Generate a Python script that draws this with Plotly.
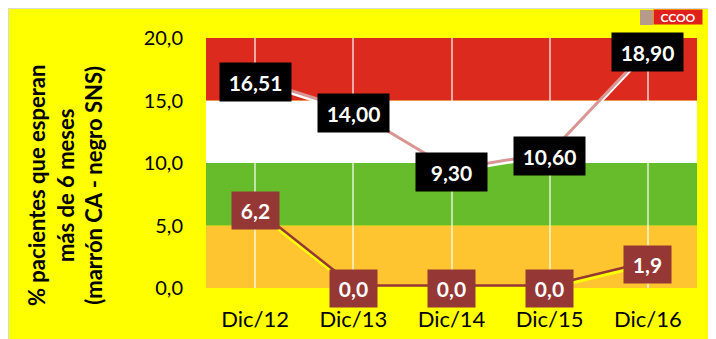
import plotly.graph_objects as go

categories = ["Dic/12", "Dic/13", "Dic/14", "Dic/15", "Dic/16"]
sns_values = [16.51, 14.00, 9.30, 10.60, 18.90]
ca_values = [6.2, 0.0, 0.0, 0.0, 1.9]
y_ticks = [0, 5, 10, 15, 20]
band_edges = [0, 5, 10, 15, 20]
band_colors = ["#FFC530", "#67BC2C", "#FFFFFF", "#DC2A1E"]

W, H = 716, 339
ML, MR, MT, MB = 198, 27, 30, 59
PW, PH = W - ML - MR, H - MT - MB


def px(x):
    return (x - ML) / PW


def py(y):
    return (H - MB - y) / PH


FONT = "Lato"
shift = 0.2

fig = go.Figure()

# shadow lines (slightly offset axis)
fig.add_trace(go.Scatter(x=categories, y=sns_values, mode="lines",
                         line=dict(color="#D99694", width=3), yaxis="y2",
                         hoverinfo="skip"))
fig.add_trace(go.Scatter(x=categories, y=sns_values, mode="lines",
                         line=dict(color="#FFFFFF", width=3), hoverinfo="skip"))
fig.add_trace(go.Scatter(x=categories, y=ca_values, mode="lines",
                         line=dict(color="#953735", width=2.5), yaxis="y2",
                         hoverinfo="skip"))
fig.add_trace(go.Scatter(x=categories, y=ca_values, mode="lines",
                         line=dict(color="#FFFF00", width=3.5), hoverinfo="skip"))

shapes = [dict(type="rect", xref="paper", yref="paper", x0=px(0.5), x1=px(W - 0.5),
               y0=py(H - 0.5), y1=py(0.5), fillcolor="rgba(0,0,0,0)",
               line=dict(color="#D9D9D9", width=1), layer="below")]
for i, c in enumerate(band_colors):
    shapes.append(dict(type="rect", xref="paper", yref="y", x0=0, x1=1,
                       y0=band_edges[i], y1=band_edges[i + 1], fillcolor=c,
                       line=dict(width=0), layer="below"))
# logo icon
shapes.append(dict(type="rect", xref="paper", yref="paper", x0=px(632), x1=px(645),
                   y0=py(17), y1=py(2), fillcolor="#B89A8A",
                   line=dict(width=0)))

annotations = []
for c, v in zip(categories, sns_values):
    annotations.append(dict(x=c, y=v, xref="x", yref="y", showarrow=False,
                            text="<b>" + f"{v:.2f}".replace(".", ",") + "</b>",
                            font=dict(family=FONT, size=21, color="white"),
                            bgcolor="black", width=63, height=30, borderpad=4,
                            xanchor="center", yanchor="middle"))
for c, v in zip(categories, ca_values):
    annotations.append(dict(x=c, y=v, xref="x", yref="y", showarrow=False,
                            text="<b>" + f"{v:.1f}".replace(".", ",") + "</b>",
                            font=dict(family=FONT, size=21, color="white"),
                            bgcolor="#953735", width=39, height=29, borderpad=4,
                            xanchor="center", yanchor="middle"))
annotations.append(dict(x=px(57), y=py(178), xref="paper", yref="paper",
                        showarrow=False, textangle=-90,
                        text="<b>% pacientes que esperan<br>más de 6 meses<br>(marrón CA - negro SNS)</b>",
                        font=dict(family=FONT, size=22, color="black"),
                        xanchor="center", yanchor="middle"))
annotations.append(dict(x=px(670), y=py(9.5), xref="paper", yref="paper",
                        showarrow=False, text="<b>CCOO</b>",
                        font=dict(family=FONT, size=12, color="white"),
                        bgcolor="#E0201B", width=46, height=12, borderpad=1,
                        xanchor="center", yanchor="middle"))

fig.update_layout(
    width=W, height=H,
    margin=dict(l=ML, r=MR, t=MT, b=MB),
    paper_bgcolor="#FFFF00", plot_bgcolor="rgba(0,0,0,0)",
    showlegend=False,
    separators=",.",
    shapes=shapes, annotations=annotations,
    xaxis=dict(type="category", range=[-0.5, 4.5], showgrid=True,
               gridcolor="rgba(255,255,255,0.6)", gridwidth=2,
               showline=False, zeroline=False, ticks="outside", ticklen=12,
               tickcolor="rgba(0,0,0,0)", automargin=False,
               tickfont=dict(family=FONT, size=22, color="black")),
    yaxis=dict(range=[0, 20], tickvals=y_ticks, tickformat=".1f",
               showgrid=False, zeroline=False, showline=False,
               ticks="outside", ticklen=18, tickcolor="rgba(0,0,0,0)",
               automargin=False,
               tickfont=dict(family=FONT, size=20, color="black")),
    yaxis2=dict(range=[0 - shift, 20 - shift], overlaying="y", visible=False),
)

fig.write_html("out.html")
